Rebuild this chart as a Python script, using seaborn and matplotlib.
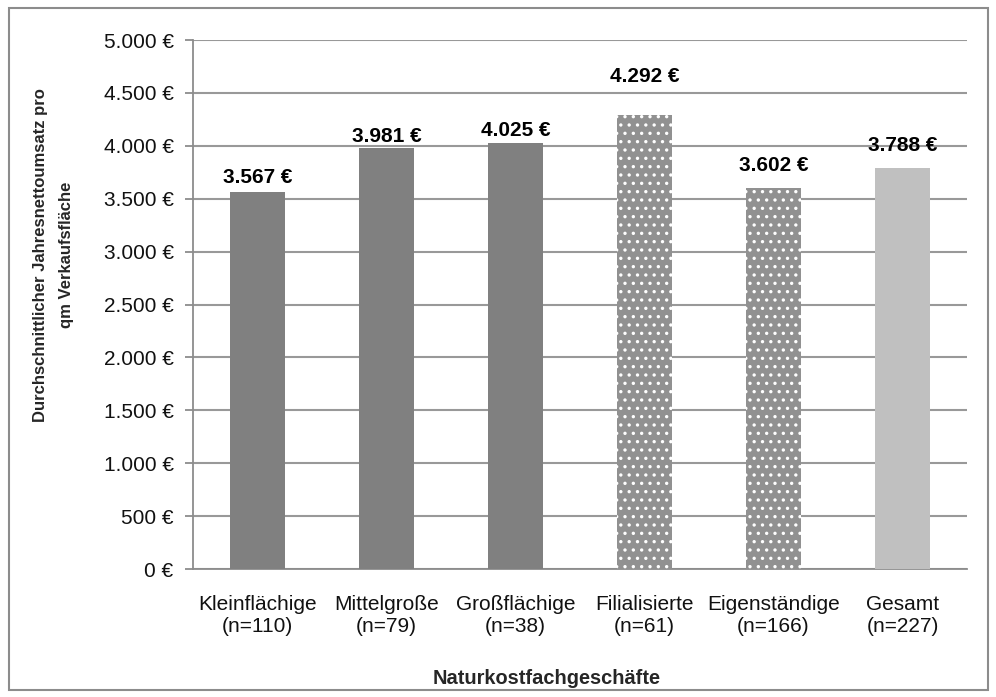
import matplotlib
matplotlib.use("Agg")
import matplotlib.pyplot as plt
from matplotlib.patches import Rectangle
import seaborn as sns
import pandas as pd

# Data
categories = ["Kleinflächige", "Mittelgroße", "Großflächige",
              "Filialisierte", "Eigenständige", "Gesamt"]
sample_sizes = [110, 79, 38, 61, 166, 227]
revenue_per_sqm = [3567, 3981, 4025, 4292, 3602, 3788]
y_ticks = list(range(0, 5001, 500))

# Styling
bar_colors = ["#808080", "#808080", "#808080", "#919191", "#919191", "#c0c0c0"]
dotted = [False, False, False, True, True, False]
label_offsets_pt = [10.4, 8.0, 9.2, 27.4, 16.4, 16.4]

def euro(v):
    return f"{v:,.0f} €".replace(",", ".")

sns.set_theme(style="white")
plt.rcParams["font.family"] = ["Liberation Sans", "DejaVu Sans"]
plt.rcParams["hatch.linewidth"] = 1.2

fig = plt.figure(figsize=(9.96, 6.97), dpi=100)
ax = fig.add_axes([0.1938, 0.1836, 0.9709 - 0.1938, 0.9426 - 0.1836])

df = pd.DataFrame({
    "Kategorie": [f"{c}\n(n={n})" for c, n in zip(categories, sample_sizes)],
    "Umsatz": revenue_per_sqm,
})

sns.barplot(data=df, x="Kategorie", y="Umsatz", hue="Kategorie",
            palette=bar_colors, legend=False, width=0.42,
            saturation=1, ax=ax, zorder=3)

for patch, dot in zip(ax.patches, dotted):
    patch.set_linewidth(0)
    if dot:
        patch.set_edgecolor("white")
        patch.set_hatch("..")

for i, (v, off) in enumerate(zip(revenue_per_sqm, label_offsets_pt)):
    ax.annotate(euro(v), xy=(i, v), xytext=(0, off), textcoords="offset points",
                ha="center", va="center", fontsize=15, fontweight="bold",
                color="black", zorder=5)

ax.set_ylim(0, 5000)
ax.set_xlim(-0.5, len(categories) - 0.5)
ax.set_yticks(y_ticks)
ax.set_yticklabels([euro(t) for t in y_ticks])
ax.yaxis.grid(True, color="#999999", linewidth=1.5, zorder=0)
ax.set_axisbelow(True)

for side in ("top", "right"):
    ax.spines[side].set_visible(False)
for side in ("left", "bottom"):
    ax.spines[side].set_color("#8c8c8c")
    ax.spines[side].set_linewidth(1.3)

ax.tick_params(axis="y", which="major", length=6, width=1.3, color="#8c8c8c",
               labelsize=15, pad=8, left=True, labelcolor="#111111")
ax.tick_params(axis="x", which="major", length=0, labelsize=15, pad=19,
               labelcolor="#111111")

ax.set_xlabel("")
ax.set_ylabel("")

fig.text(0.054, 0.634, "Durchschnittlicher Jahresnettoumsatz pro\nqm Verkaufsfläche",
         rotation=90, ha="center", va="center", fontsize=12, fontweight="bold",
         linespacing=1.95, multialignment="center")
fig.text(0.549, 0.027, "Naturkostfachgeschäfte", ha="center", va="center",
         fontsize=14.4, fontweight="bold")

# Outer chart frame
fig.patches.append(Rectangle((0.0095, 0.0095), 0.982, 0.979, transform=fig.transFigure,
                             fill=False, edgecolor="#8c8c8c", linewidth=1.5))

fig.savefig("out.png", dpi=100)
